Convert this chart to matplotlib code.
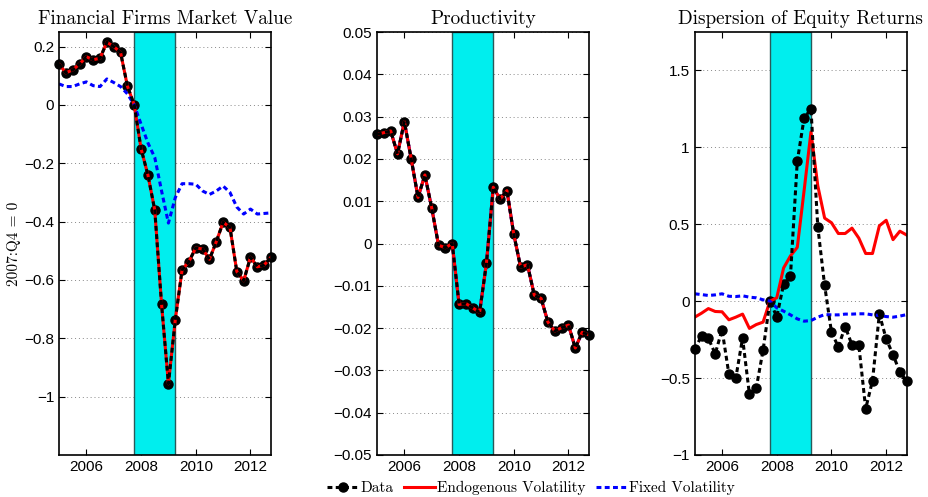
import matplotlib
matplotlib.use("Agg")
import matplotlib.pyplot as plt
from matplotlib.lines import Line2D
import numpy as np

# quarterly dates 2005Q1 .. 2012Q4
start_year = 2005.0
n_quarters = 32
dates = start_year + 0.25 * np.arange(n_quarters)

# recession band (2007Q4 - 2009Q2)
band_start, band_end = 2007.75, 2009.25

# ---- Financial Firms Market Value ----
mv_data = [0.14, 0.11, 0.12, 0.14, 0.165, 0.155, 0.16, 0.215, 0.20, 0.18,
           0.065, 0.0, -0.15, -0.24, -0.36, -0.684, -0.956, -0.737, -0.565, -0.537,
           -0.49, -0.494, -0.529, -0.469, -0.402, -0.42, -0.571, -0.603, -0.522, -0.555,
           -0.549, -0.522]
mv_endo = list(mv_data)
mv_fixed = [0.072, 0.063, 0.063, 0.072, 0.079, 0.066, 0.063, 0.089, 0.077, 0.063,
            0.038, 0.0, -0.066, -0.13, -0.18, -0.295, -0.405, -0.318, -0.27, -0.27,
            -0.272, -0.295, -0.307, -0.295, -0.278, -0.30, -0.35, -0.374, -0.357, -0.374,
            -0.372, -0.37]

# ---- Productivity ----
prod_data = [0.0258, 0.0262, 0.0266, 0.0212, 0.0288, 0.0200, 0.0109, 0.0162, 0.0084, -0.0004,
             -0.0010, 0.0, -0.0144, -0.0142, -0.0152, -0.0163, -0.0047, 0.0133, 0.0105, 0.0125,
             0.0022, -0.0056, -0.0050, -0.0122, -0.0130, -0.0186, -0.0207, -0.0199, -0.0193, -0.0247,
             -0.0210, -0.0216]
prod_endo = list(prod_data)
prod_fixed = list(prod_data)

# ---- Dispersion of Equity Returns ----
disp_data = [-0.314, -0.225, -0.242, -0.342, -0.186, -0.474, -0.502, -0.240, -0.604, -0.565,
             -0.318, 0.0, -0.102, 0.11, 0.162, 0.91, 1.19, 1.25, 0.483, 0.102,
             -0.201, -0.297, -0.165, -0.284, -0.286, -0.699, -0.517, -0.084, -0.245, -0.348,
             -0.461, -0.519]
disp_endo = [-0.104, -0.078, -0.048, -0.067, -0.069, -0.121, -0.104, -0.084, -0.177, -0.152,
             -0.136, 0.0, 0.022, 0.216, 0.294, 0.35, 0.72, 1.10, 0.75, 0.54,
             0.51, 0.44, 0.44, 0.475, 0.41, 0.31, 0.31, 0.49, 0.526, 0.40,
             0.455, 0.43]
disp_fixed = [0.048, 0.043, 0.037, 0.041, 0.048, 0.032, 0.030, 0.035, 0.026, 0.022,
              0.009, 0.0, -0.043, -0.065, -0.089, -0.115, -0.13, -0.126, -0.104, -0.087,
              -0.089, -0.089, -0.084, -0.084, -0.082, -0.082, -0.089, -0.093, -0.10, -0.104,
              -0.097, -0.087]

titles = ["Financial Firms Market Value", "Productivity", "Dispersion of Equity Returns"]
ylims = [(-1.2, 0.25), (-0.05, 0.05), (-1.0, 1.75)]
yticks = [
    [-1.0, -0.8, -0.6, -0.4, -0.2, 0.0, 0.2],
    [-0.05, -0.04, -0.03, -0.02, -0.01, 0.0, 0.01, 0.02, 0.03, 0.04, 0.05],
    [-1.0, -0.5, 0.0, 0.5, 1.0, 1.5],
]
ytick_labels = [
    ["\u22121", "\u22120.8", "\u22120.6", "\u22120.4", "\u22120.2", "0", "0.2"],
    ["\u22120.05", "\u22120.04", "\u22120.03", "\u22120.02", "\u22120.01", "0",
     "0.01", "0.02", "0.03", "0.04", "0.05"],
    ["\u22121", "\u22120.5", "0", "0.5", "1", "1.5"],
]
xticks = [2006, 2008, 2010, 2012]
series = [
    (mv_data, mv_endo, mv_fixed),
    (prod_data, prod_endo, prod_fixed),
    (disp_data, disp_endo, disp_fixed),
]

TICK_FONT = "Liberation Sans"
SERIF = "cmr10"
W, H = 929, 497
lefts = [59, 377, 694.7]
ax_w, top, bottom = 212, 32, 455

fig = plt.figure(figsize=(W / 100, H / 100), dpi=100)
lw = 2.2
dash_data = (1.6, 1.1)
dash_fixed = (1.6, 1.1)

for k in range(3):
    ax = fig.add_axes([lefts[k] / W, 1 - bottom / H, ax_w / W, (bottom - top) / H])
    d, e, f = series[k]
    ax.axvspan(band_start, band_end, facecolor="#00eeee", edgecolor="#2a5a5a",
               linewidth=1.0, zorder=1)
    if k == 1:
        ax.plot(dates, f, color="blue", lw=lw, zorder=1.5)
    ax.plot(dates, d, color="black", lw=lw, ls="none", marker="o", ms=6.5, zorder=2,
            clip_on=False)
    ax.plot(dates, e, color="red", lw=lw, zorder=3)
    if k != 1:
        ax.plot(dates, f, color="blue", lw=lw, dashes=dash_fixed, zorder=3.5)
    ax.plot(dates, d, color="black", lw=lw, dashes=dash_data, zorder=4)

    ax.set_xlim(start_year, dates[-1])
    ax.set_ylim(*ylims[k])
    ax.set_xticks(xticks)
    ax.set_yticks(yticks[k])
    ax.set_yticklabels(ytick_labels[k])
    ax.tick_params(direction="in", top=True, right=True, length=4, width=0.8,
                   labelsize=11)
    for lab in ax.get_xticklabels() + ax.get_yticklabels():
        lab.set_fontfamily(TICK_FONT)
    ax.yaxis.grid(True, linestyle=(0, (1, 3)), color="#888888", lw=0.7)
    ax.set_axisbelow(True)
    for sp in ax.spines.values():
        sp.set_linewidth(1.2)
        sp.set_zorder(5)
    ax.set_title(titles[k], fontfamily=SERIF, fontsize=13.8, pad=6)
    if k == 0:
        ax.set_ylabel("2007:Q4 = 0", fontfamily=SERIF, fontsize=11, labelpad=2)

handles = [
    Line2D([], [], color="black", lw=lw, dashes=dash_data, marker="o", ms=6.5),
    Line2D([], [], color="red", lw=lw),
    Line2D([], [], color="blue", lw=lw, dashes=dash_fixed),
]
fig.legend(handles, ["Data", "Endogenous Volatility", "Fixed Volatility"],
           loc="center", bbox_to_anchor=(531 / W, 1 - 488 / H), ncol=3, frameon=False,
           prop={"family": SERIF, "size": 11}, handlelength=2.0, handletextpad=0.15,
           columnspacing=0.7, borderpad=0.0)

fig.savefig("out.png", dpi=100, facecolor="white")
